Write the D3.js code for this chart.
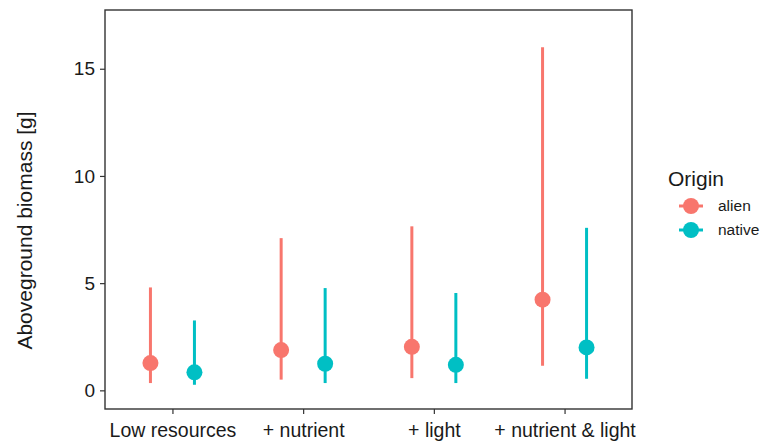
<!DOCTYPE html>
<meta charset="utf-8">
<head>
  <script src="https://d3js.org/d3.v7.min.js"></script>
  <style>
    body { margin: 0; background: #fff; }
    text { font-family: "Liberation Sans", Arial, sans-serif; fill: #1a1a1a; }
  </style>
</head>
<body>
<div id="chart"></div>
<script>
  "use strict"

  // dados
  var tratamentos = ["Low resources", "+ nutrient", "+ light", "+ nutrient & light"];
  var origens = ["alien", "native"];
  var cores = ["#F8766D", "#00BFC4"];
  var yTicks = [0, 5, 10, 15];

  var alienMedia = [1.27, 1.88, 2.03, 4.23];
  var alienMin   = [0.34, 0.50, 0.57, 1.15];
  var alienMax   = [4.80, 7.10, 7.65, 16.0];

  var nativeMedia = [0.84, 1.24, 1.19, 2.00];
  var nativeMin   = [0.26, 0.34, 0.34, 0.54];
  var nativeMax   = [3.26, 4.77, 4.54, 7.58];

  var dados = [];
  tratamentos.forEach(function(t, i) {
    dados.push({trat: t, origem: "alien", media: alienMedia[i], min: alienMin[i], max: alienMax[i]});
    dados.push({trat: t, origem: "native", media: nativeMedia[i], min: nativeMin[i], max: nativeMax[i]});
  });

  var larguraSVG = 767, alturaSVG = 445;
  var margin = {top: 10, right: 135, bottom: 36, left: 105},
      larguraVis = larguraSVG - margin.left - margin.right,
      alturaVis = alturaSVG - margin.top - margin.bottom;

  var svg = d3.select('#chart')
              .append('svg')
                .attr('width', larguraSVG)
                .attr('height', alturaSVG);

  var grafico = svg.append('g')
                   .attr('transform', 'translate(' + margin.left + ',' + margin.top + ')');

  var x = d3.scalePoint()
            .domain(tratamentos)
            .range([0, larguraVis])
            .padding(0.516);

  var dodge = d3.scalePoint()
                .domain(origens)
                .range([-22, 22]);

  var y = d3.scaleLinear()
            .domain([-0.87, 17.74])
            .range([alturaVis, 0]);

  var cor = d3.scaleOrdinal().domain(origens).range(cores);

  // barras de intervalo
  grafico.selectAll('line.range')
         .data(dados)
         .enter()
         .append('line')
         .attr('class', 'range')
         .attr('x1', function(d) { return x(d.trat) + dodge(d.origem); })
         .attr('x2', function(d) { return x(d.trat) + dodge(d.origem); })
         .attr('y1', function(d) { return y(d.min); })
         .attr('y2', function(d) { return y(d.max); })
         .style('stroke', function(d) { return cor(d.origem); })
         .style('stroke-width', 3);

  grafico.selectAll('circle.media')
         .data(dados)
         .enter()
         .append('circle')
         .attr('class', 'media')
         .attr('r', 8)
         .attr('cx', function(d) { return x(d.trat) + dodge(d.origem); })
         .attr('cy', function(d) { return y(d.media); })
         .style('fill', function(d) { return cor(d.origem); });

  // eixos
  var eixoX = grafico.append('g')
         .attr('transform', 'translate(0,' + alturaVis + ')')
         .call(d3.axisBottom(x).tickSize(5).tickPadding(9));

  var eixoY = grafico.append('g')
         .call(d3.axisLeft(y).tickValues(yTicks).tickSize(5).tickPadding(5));

  [eixoX, eixoY].forEach(function(e) {
    e.select('.domain').remove();
    e.selectAll('.tick line').style('stroke', '#333').style('stroke-width', 1.2);
    e.selectAll('.tick text')
     .style('font-family', '"Liberation Sans", Arial, sans-serif').style('fill', '#1a1a1a');
  });
  eixoX.selectAll('.tick text').style('font-size', '19.5px');
  eixoY.selectAll('.tick text').style('font-size', '19px');

  grafico.append('rect')
         .attr('x', 0).attr('y', 0)
         .attr('width', larguraVis).attr('height', alturaVis)
         .style('fill', 'none')
         .style('stroke', '#333')
         .style('stroke-width', 1.4);

  svg.append('text')
     .attr('transform', 'translate(32,' + (margin.top + alturaVis / 2 + 21) + ') rotate(-90)')
     .attr('text-anchor', 'middle')
     .style('font-size', '21px')
     .text('Aboveground biomass [g]');

  // legenda
  var legenda = svg.append('g').attr('transform', 'translate(668,0)');

  legenda.append('text')
         .attr('x', 0).attr('y', 186)
         .style('font-size', '21px')
         .text('Origin');

  var itens = legenda.selectAll('g.item')
         .data(origens)
         .enter()
         .append('g')
         .attr('class', 'item')
         .attr('transform', function(d, i) { return 'translate(0,' + (206 + i * 24) + ')'; });

  itens.append('line')
       .attr('x1', 11).attr('x2', 35)
       .style('stroke', function(d) { return cor(d); })
       .style('stroke-width', 3);

  itens.append('circle')
       .attr('cx', 23).attr('r', 8)
       .style('fill', function(d) { return cor(d); });

  itens.append('text')
       .attr('x', 50).attr('y', 5)
       .style('font-size', '15.5px')
       .text(function(d) { return d; });
</script>
</body>
</html>
